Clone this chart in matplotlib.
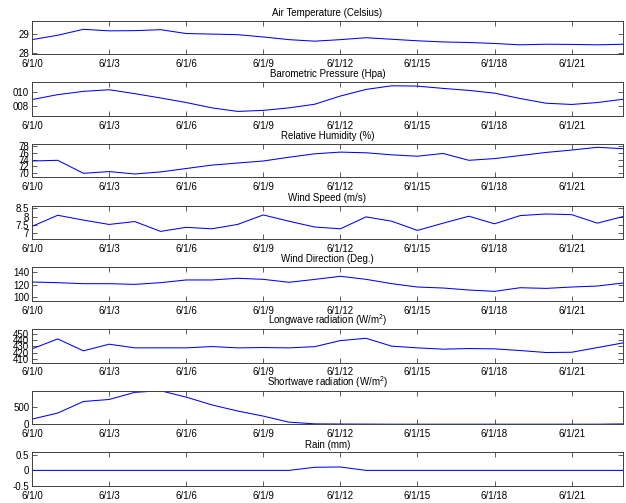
import numpy as np
import matplotlib
matplotlib.use('Agg')
import matplotlib.pyplot as plt

plt.rcParams['font.family'] = ['Liberation Sans', 'DejaVu Sans']
plt.rcParams['mathtext.fontset'] = 'custom'
plt.rcParams['mathtext.rm'] = 'Liberation Sans'
plt.rcParams['mathtext.it'] = 'Liberation Sans:italic'

# hourly readings, 6/1 00:00 - 23:00
hours = np.arange(24)

air_temp = [28.70, 28.93, 29.24, 29.16, 29.17, 29.22, 29.02, 28.99, 28.96, 28.84, 28.70, 28.62,
            28.70, 28.80, 28.72, 28.64, 28.58, 28.55, 28.50, 28.43, 28.46, 28.45, 28.43, 28.46]
pressure = [1008.93, 1009.60, 1010.04, 1010.26, 1009.73, 1009.15, 1008.53, 1007.81, 1007.33, 1007.47, 1007.81, 1008.30,
            1009.41, 1010.30, 1010.80, 1010.75, 1010.44, 1010.17, 1009.80, 1009.07, 1008.44, 1008.27, 1008.53, 1008.97]
humidity = [73.6, 73.8, 70.0, 70.5, 69.8, 70.4, 71.4, 72.4, 73.0, 73.6, 74.7, 75.7,
            76.2, 76.0, 75.4, 75.0, 75.8, 73.8, 74.3, 75.2, 76.1, 76.8, 77.6, 77.2]
wind_speed = [7.39, 8.08, 7.78, 7.51, 7.69, 7.08, 7.33, 7.24, 7.51, 8.10, 7.71, 7.35,
              7.24, 7.98, 7.71, 7.14, 7.59, 8.02, 7.55, 8.06, 8.16, 8.12, 7.59, 8.00]
wind_dir = [124.3, 123.2, 121.6, 121.6, 120.5, 123.2, 127.6, 127.6, 130.3, 128.6, 123.8, 128.5,
            133.5, 128.6, 121.6, 116.2, 114.6, 111.4, 109.2, 115.1, 114.0, 116.2, 117.8, 122.7]
longwave = [426.0, 442.0, 422.8, 433.5, 427.6, 427.6, 427.6, 429.7, 427.6, 428.1, 427.6, 429.5,
            439.3, 443.0, 430.3, 427.6, 425.5, 426.5, 426.0, 423.3, 420.1, 420.5, 428.0, 435.6]
shortwave = [147, 323, 657, 716, 922, 970, 784, 559, 382, 235, 59, 10,
             5, 3, 0, 0, 0, 0, 0, 0, 0, 0, 0, 8]
rain = [0, 0, 0, 0, 0, 0, 0, 0, 0, 0, 0, 0.1,
        0.11, 0, 0, 0, 0, 0, 0, 0, 0, 0, 0, 0]

titles = ['Air Temperature (Celsius)', 'Barometric Pressure (Hpa)', 'Relative Humidity (%)',
          'Wind Speed (m/s)', 'Wind Direction (Deg.)', r'Longwave radiation (W/m$^2$)',
          r'Shortwave radiation (W/m$^2$)', 'Rain (mm)']
series = [air_temp, pressure, humidity, wind_speed, wind_dir, longwave, shortwave, rain]
ylims = [(27.95, 29.7), (1006.75, 1011.28), (68.8, 78.6), (6.6, 8.68),
         (94, 148), (404, 458), (0, 970), (-0.5, 0.58)]
yticks = [[28, 29], [1008, 1010], [70, 72, 74, 76, 78], [7, 7.5, 8, 8.5],
          [100, 120, 140], [410, 420, 430, 440, 450], [0, 500], [-0.5, 0, 0.5]]
ytick_labels = [['28', '29'], ['008', '010'], ['70', '72', '74', '76', '78'], ['7', '7.5', '8', '8.5'],
                ['100', '120', '140'], ['410', '420', '430', '440', '450'], ['0', '500'], ['-0.5', '0', '0.5']]
xticks = [0, 3, 6, 9, 12, 15, 18, 21]
xtick_labels = ['6/1/%d' % h for h in xticks]

W, H = 626, 503
fig = plt.figure(figsize=(W / 100, H / 100), dpi=100)

left, right = 32, 623
top0, step, ph = 20.5, 61.7, 33.5
edge = '#404040'
fs = 7

for i in range(8):
    top = top0 + i * step
    ax = fig.add_axes([left / W, 1 - (top + ph) / H, (right - left) / W, ph / H])
    ax.plot(hours, series[i], color='#0000ff', lw=0.75)
    ax.set_xlim(0, 23)
    ax.set_ylim(*ylims[i])
    ax.set_xticks(xticks)
    ax.set_xticklabels(xtick_labels)
    ax.set_yticks(yticks[i])
    ax.set_yticklabels(ytick_labels[i])
    ax.tick_params(direction='in', length=3.6, width=0.6, color=edge,
                   top=True, right=True, labelsize=fs, labelcolor='black')
    ax.tick_params(axis='x', pad=3.5)
    ax.tick_params(axis='y', pad=2)
    for s in ax.spines.values():
        s.set_color(edge)
        s.set_linewidth(0.7)
    ax.set_title(titles[i], fontsize=fs, pad=3.5)

fig.savefig('out.png', dpi=100)
